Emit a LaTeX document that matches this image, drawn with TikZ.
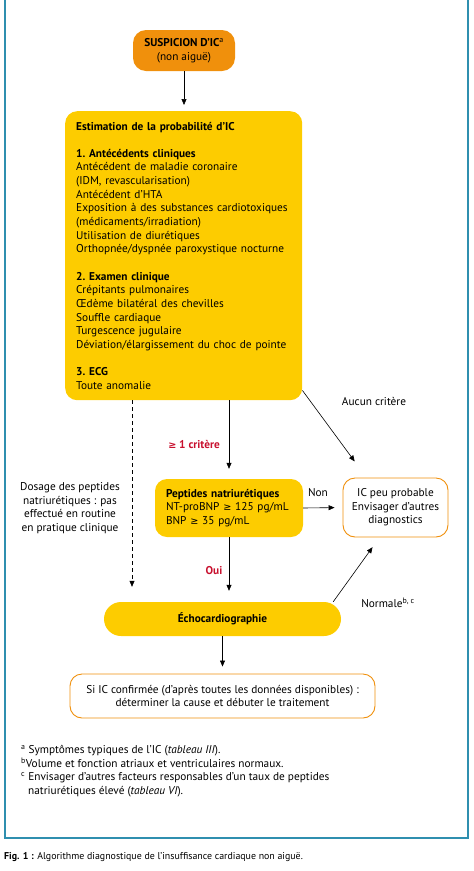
\documentclass[tikz,border=0pt]{standalone}
\usepackage{fontspec}
\setmainfont{PT Sans}
\newfontfamily\symfont{DejaVu Sans}
\usetikzlibrary{arrows.meta,calc}
\definecolor{EchoYellow}{HTML}{FDCC00}
\definecolor{EchoOrange}{HTML}{F0900C}
\definecolor{EchoFrame}{HTML}{2F8FAF}
\definecolor{EchoRed}{HTML}{C8102E}
\newcommand{\geqsym}{{\symfont\fontsize{9.7}{10}\selectfont ≥}}

\begin{document}
\begin{tikzpicture}[x=1pt,y=-1pt,
  every node/.style={font=\fontsize{11.3}{13.65}\selectfont},
  box/.style={rounded corners=12pt,inner sep=0pt,align=center},
  yel/.style={box,fill=EchoYellow},
  org/.style={box,fill=EchoOrange},
  wht/.style={box,fill=white,draw=EchoOrange,line width=0.9pt},
  arr/.style={-{Triangle[length=6pt,width=5pt]},semithick},
  red/.style={EchoRed,font=\fontsize{11.3}{13.65}\selectfont\bfseries},
  lab/.style={inner sep=1pt,align=center}]
  \useasboundingbox (0,0) rectangle (474,871);
  \draw[EchoFrame,line width=1.1pt] (5,-3) rectangle (468,838);
  \node[org,minimum width=102,minimum height=41,rounded corners=13pt] (susp) at (184,50.5)
    {\textbf{SUSPICION D’IC}\textsuperscript{a}\\(non aiguë)};
  \node[yel,minimum width=237,minimum height=289,text width=215,align=left,anchor=north west] (proba) at (65,111)
    {\textbf{Estimation de la probabilité d’IC}\\[13.65pt]
     \textbf{1.\ Antécédents cliniques}\\
     Antécédent de maladie coronaire\\
     (IDM, revascularisation)\\
     Antécédent d’HTA\\
     Exposition à des substances cardiotoxiques\\
     (médicaments/irradiation)\\
     Utilisation de diurétiques\\
     Orthopnée/dyspnée paroxystique nocturne\\[13.65pt]
     \textbf{2.\ Examen clinique}\\
     Crépitants pulmonaires\\
     Œdème bilatéral des chevilles\\
     Souffle cardiaque\\
     Turgescence jugulaire\\
     Déviation/élargissement du choc de pointe\\[13.65pt]
     \textbf{3.\ ECG}\\
     Toute anomalie};
  \node[yel,minimum width=148,minimum height=58,text width=126,align=left] (pept) at (229,508)
    {\textbf{Peptides natriurétiques}\\
     NT-proBNP \geqsym\ 125 pg/mL\\
     BNP \geqsym\ 35 pg/mL};
  \node[wht,minimum width=105,minimum height=59] (ic) at (395.5,507.5)
    {IC peu probable\\Envisager d’autres\\diagnostics};
  \node[yel,minimum width=237,minimum height=34,rounded corners=17pt] (echo) at (222.5,619)
    {\textbf{Échocardiographie}};
  \node[wht,minimum width=305,minimum height=44] (final) at (222.5,696)
    {Si IC confirmée (d’après toutes les données disponibles) :\\
     déterminer la cause et débuter le traitement};
  \node[lab] (dosage) at (70,508)
    {Dosage des peptides\\natriurétiques : pas\\effectué en routine\\en pratique clinique};
  \coordinate (dashx) at (132,0);
  \draw[arr,shorten >=6pt] (susp.south) -- (susp.south |- proba.north);
  \draw[arr,shorten >=10pt] (proba.south -| pept.north) -- (pept.north);
  \draw[arr,dash pattern=on 4pt off 3pt,shorten >=15pt] (proba.south -| dashx) -- (dashx |- echo.north);
  \draw[arr,shorten >=11pt] (pept.south) -- (pept.south |- echo.north);
  \draw[arr,shorten >=7pt] (echo.south -| final.north) -- (final.north);
  \draw[arr,shorten >=8pt] (pept.east) -- (ic.west);
  \draw[arr,shorten >=20pt] ($(proba.south east)+(0,-10)$) -- ($(ic.north west)+(24,0)$);
  \draw[arr,shorten >=12pt] ($(echo.north east)+(-8,0)$) -- ($(ic.south west)+(37,0)$);
  \node[red] (crit) at (194,445) {\geqsym\ 1 critère};
  \node[red] (oui) at (214,571) {Oui};
  \node[lab] (non) at (318,493) {Non};
  \node[lab] (aucun) at (374,401) {Aucun critère};
  \node[lab] (normale) at (388,603) {Normale\textsuperscript{b, c}};
  \node[inner sep=0pt,align=left,anchor=north west] (notes) at (21,745)
    {\textsuperscript{a} Symptômes typiques de l’IC (\textit{tableau III}).\\
     \textsuperscript{b}Volume et fonction atriaux et ventriculaires normaux.\\
     \textsuperscript{c} Envisager d’autres facteurs responsables d’un taux de peptides\\
     \hspace{7pt}natriurétiques élevé (\textit{tableau VI}).};
  \node[inner sep=0pt,anchor=west,font=\fontsize{9.9}{11}\selectfont] (caption) at (4,857)
    {\textbf{Fig. 1 :} Algorithme diagnostique de l’insuffisance cardiaque non aiguë.};
\end{tikzpicture}
\end{document}
